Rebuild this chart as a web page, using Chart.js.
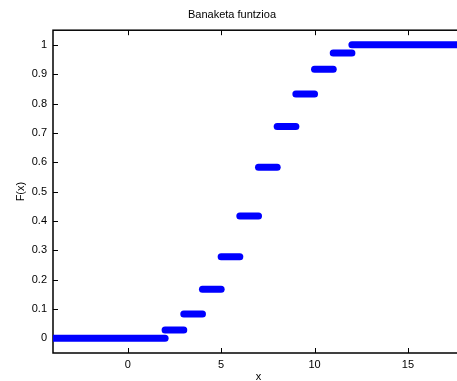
<!DOCTYPE html>
<html>
<head>
<meta charset="utf-8">
<script src="https://cdn.jsdelivr.net/npm/chart.js@4/dist/chart.umd.min.js"></script>
<style>
  html, body { margin: 0; padding: 0; background: #fff; overflow: hidden; }
  #wrap { width: 465px; height: 381px; }
</style>
</head>
<body>
<div id="wrap"><canvas id="cdfChart" width="465" height="381"></canvas></div>
<script>
// step segments of the distribution function (sum of two dice)
const stepStart = [-4, 2, 3, 4, 5, 6, 7, 8, 9, 10, 11, 12];
const stepEnd   = [2, 3, 4, 5, 6, 7, 8, 9, 10, 11, 12, 18];
const stepValue = [0, 0.028, 0.083, 0.167, 0.278, 0.417, 0.583, 0.722, 0.833, 0.917, 0.972, 1];

const xTicks = [0, 5, 10, 15];
const yTicks = [0, 0.1, 0.2, 0.3, 0.4, 0.5, 0.6, 0.7, 0.8, 0.9, 1];

const datasets = [];
for (let i = 0; i < stepValue.length; i++) {
    datasets.push({
        data: [{x: stepStart[i], y: stepValue[i]}, {x: stepEnd[i], y: stepValue[i]}],
        showLine: true,
        borderColor: '#0000ff',
        backgroundColor: '#0000ff',
        borderWidth: 7,
        borderCapStyle: 'round',
        pointRadius: 0,
    });
}

const font = {family: '"Liberation Sans", Arial, sans-serif', size: 11};

// matlab style box with inward ticks, drawn under the data
const boxPlugin = {
    id: 'box',
    beforeDatasetsDraw(chart) {
        const ctx = chart.ctx;
        const a = chart.chartArea;
        const xs = chart.scales.x, ys = chart.scales.y;
        ctx.save();
        ctx.strokeStyle = '#000';
        ctx.lineWidth = 1.5;
        ctx.strokeRect(a.left, a.top, a.right - a.left, a.bottom - a.top);
        ctx.lineWidth = 1;
        ctx.beginPath();
        xTicks.forEach(v => {
            const px = Math.round(xs.getPixelForValue(v)) + 0.5;
            ctx.moveTo(px, a.bottom); ctx.lineTo(px, a.bottom - 5);
            ctx.moveTo(px, a.top); ctx.lineTo(px, a.top + 5);
        });
        yTicks.forEach(v => {
            const py = Math.round(ys.getPixelForValue(v)) + 0.5;
            ctx.moveTo(a.left, py); ctx.lineTo(a.left + 5, py);
            ctx.moveTo(a.right, py); ctx.lineTo(a.right - 5, py);
        });
        ctx.stroke();
        ctx.restore();
    }
};

new Chart(document.getElementById('cdfChart'), {
    type: 'scatter',
    data: {datasets: datasets},
    options: {
        responsive: false,
        animation: false,
        layout: {padding: {left: 0, right: 1, top: 0, bottom: 0}},
        plugins: {
            legend: {display: false},
            tooltip: {enabled: false},
            title: {
                display: true,
                text: 'Banaketa funtzioa',
                color: '#000',
                font: {family: font.family, size: 11, weight: 'normal'},
                padding: {top: 8, bottom: 9}
            }
        },
        scales: {
            x: {
                type: 'linear',
                min: -4,
                max: 18,
                afterBuildTicks: s => { s.ticks = xTicks.map(v => ({value: v})); },
                afterFit: s => { s.height = 28; },
                grid: {display: false, drawTicks: false},
                border: {display: false},
                ticks: {color: '#000', font: font, padding: 5, maxRotation: 0},
                title: {display: true, text: 'x', color: '#000', font: font, padding: {top: 0, bottom: -3}}
            },
            y: {
                type: 'linear',
                min: -0.05,
                max: 1.05,
                afterBuildTicks: s => { s.ticks = yTicks.map(v => ({value: v})); },
                afterFit: s => { s.width = 53; },
                grid: {display: false, drawTicks: false},
                border: {display: false},
                ticks: {color: '#000', font: font, padding: 6, callback: v => String(Math.round(v * 10) / 10)},
                title: {display: true, text: 'F(x)', color: '#000', font: font, padding: {top: 14, bottom: 0}}
            }
        }
    },
    plugins: [boxPlugin]
});
</script>
</body>
</html>
